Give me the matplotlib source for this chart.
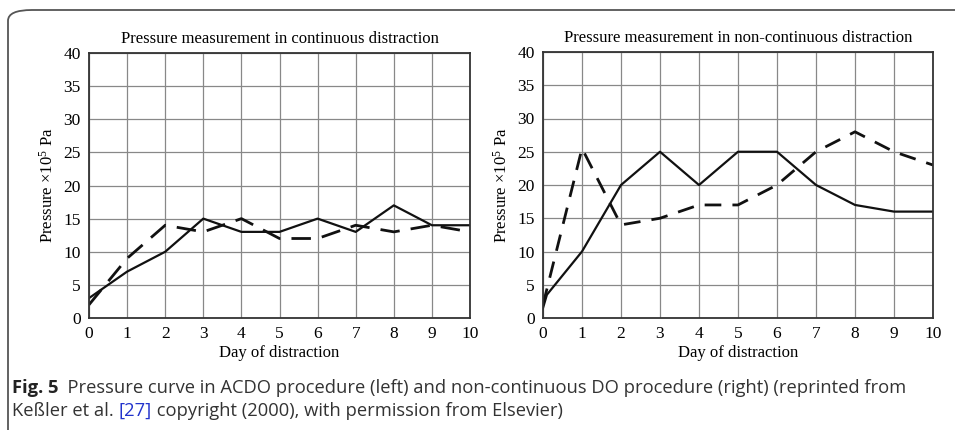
import matplotlib
matplotlib.use('Agg')
import matplotlib.pyplot as plt
from matplotlib.patches import FancyBboxPatch

days = [0, 1, 2, 3, 4, 5, 6, 7, 8, 9, 10]

# left panel: continuous distraction
cont_solid = [3, 7, 10, 15, 13, 13, 15, 13, 17, 14, 14]
cont_dashed = [2, 9, 14, 13, 15, 12, 12, 14, 13, 14, 13]

# right panel: non-continuous distraction
noncont_solid_x = [0, 0.1, 1, 2, 3, 4, 5, 6, 7, 8, 9, 10]
noncont_solid = [1.5, 3.5, 10, 20, 25, 20, 25, 25, 20, 17, 16, 16]
noncont_dashed = [2, 25.5, 14, 15, 17, 17, 20, 25, 28, 25, 23]

titles = ['Pressure measurement in continuous distraction',
          'Pressure measurement in non-continuous distraction']
xlabel = 'Day of distraction'
ylabel = r'Pressure $\times$10$^5$ Pa'

serif = 'Liberation Serif'
plt.rcParams['mathtext.fontset'] = 'custom'
plt.rcParams['mathtext.rm'] = serif
plt.rcParams['mathtext.it'] = serif

fig = plt.figure(figsize=(9.55, 4.3), dpi=100)

# rounded frame (only top and left edges visible)
frame = FancyBboxPatch((8 / 955, -0.2), 1.2, 1 - 10 / 430 + 0.2,
                       boxstyle='round,pad=0,rounding_size=0.025',
                       transform=fig.transFigure, fill=False,
                       edgecolor='#555555', linewidth=1.3, clip_on=False)
fig.patches.append(frame)

ax1 = fig.add_axes([89 / 955, 1 - 318 / 430, 381 / 955, 265 / 430])
ax2 = fig.add_axes([543 / 955, 1 - 318 / 430, 390 / 955, 266 / 430])


def style_axis(ax, title):
    ax.set_xlim(0, 10)
    ax.set_ylim(0, 40)
    ax.set_xticks(range(0, 11))
    ax.set_yticks(range(0, 41, 5))
    ax.grid(True, color='#888888', linewidth=0.9)
    ax.set_axisbelow(True)
    ax.tick_params(length=0, labelsize=12.5)
    ax.tick_params(axis='y', pad=6)
    ax.tick_params(axis='x', pad=6)
    for lab in ax.get_xticklabels() + ax.get_yticklabels():
        lab.set_fontfamily(serif)
    for sp in ax.spines.values():
        sp.set_color('#333333')
        sp.set_linewidth(1.3)
    ax.set_title(title, family=serif, fontsize=12, pad=7)
    ax.set_xlabel(xlabel, family=serif, fontsize=12, labelpad=2)
    ax.set_ylabel(ylabel, family=serif, fontsize=12, labelpad=5)


ax1.plot(days, cont_solid, color='#111111', linewidth=1.6)
ax1.plot(days, cont_dashed, color='#111111', linewidth=2.0, dashes=(7, 4))
style_axis(ax1, titles[0])

ax2.plot(noncont_solid_x, noncont_solid, color='#111111', linewidth=1.6)
ax2.plot(days, noncont_dashed, color='#111111', linewidth=2.0, dashes=(6, 4))
style_axis(ax2, titles[1])

# caption
cap_font = 'Open Sans'
renderer = fig.canvas.get_renderer()


def chain(pieces, x, y):
    for txt, kw in pieces:
        t = fig.text(x, y, txt, family=cap_font, fontsize=13.25,
                     va='baseline', ha='left', **kw)
        bb = t.get_window_extent(renderer)
        x = bb.x1 / fig.bbox.width


chain([('Fig. 5', dict(weight='bold', color='#222222')),
       ('  Pressure curve in ACDO procedure (left) and non-continuous DO procedure (right) (reprinted from',
        dict(color='#333333'))],
      12 / 955, 1 - 393 / 430)
chain([('Keßler et al. ', dict(color='#333333')),
       ('[27]', dict(color='#2233cc')),
       (' copyright (2000), with permission from Elsevier)', dict(color='#333333'))],
      12 / 955, 1 - 416 / 430)

fig.savefig('out.png', dpi=100)
